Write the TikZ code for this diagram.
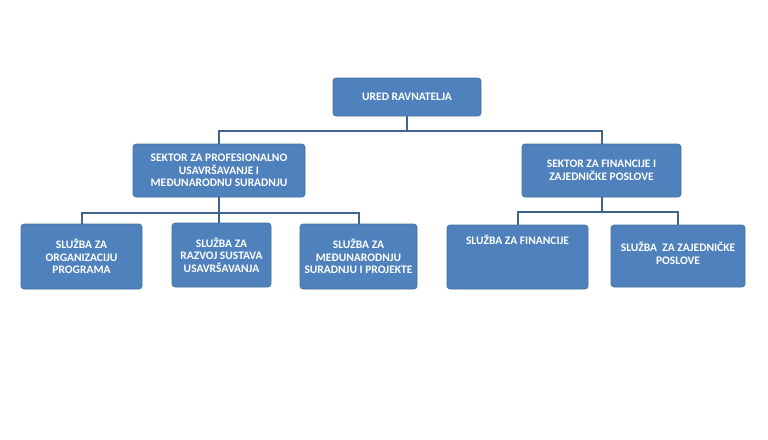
\documentclass[tikz,border=0pt]{standalone}
\usepackage{fontspec}
\setmainfont{Carlito}
\newfontfamily\boxfont{Carlito Bold}
\newcommand\Sc{\setbox0\hbox{S}\hbox to\wd0{Š\hss}}
\definecolor{boxblue}{HTML}{4F81BD}
\definecolor{boxedge}{HTML}{41719C}
\definecolor{linkblue}{HTML}{3E6590}
\tikzset{
  unit/.style={draw=boxedge, fill=boxblue, rounded corners=3pt, line width=0.6pt,
    text=white, font=\boxfont\fontsize{11.5}{12.5}\selectfont, align=center, inner sep=2pt},
  link/.style={draw=linkblue, line width=2pt}
}
\begin{document}
\begin{tikzpicture}[x=1pt,y=-1pt]
  \useasboundingbox (0,0) rectangle (768,439);
  \node[unit, minimum width=148pt, minimum height=38pt] (ured) at (407,97) {URED RAVNATELJA};
  \node[unit, minimum width=172pt, minimum height=53pt] (sekA) at (219,170.5)
    {SEKTOR ZA PROFESIONALNO\\USAVR\Sc AVANJE I\\MEĐUNARODNU SURADNJU};
  \node[unit, minimum width=159pt, minimum height=53pt] (sekB) at (601.5,170.5)
    {SEKTOR ZA FINANCIJE I\\ZAJEDNIČKE POSLOVE};
  \node[unit, minimum width=121pt, minimum height=65pt] (org) at (81.5,256.5)
    {SLUŽBA ZA\\ORGANIZACIJU\\PROGRAMA};
  \node[unit, minimum width=99pt, minimum height=64pt] (razvoj) at (221.5,255)
    {SLUŽBA ZA\\RAZVOJ SUSTAVA\\USAVR\Sc AVANJA};
  \node[unit, minimum width=117pt, minimum height=65pt] (medj) at (358.5,256.5)
    {SLUŽBA ZA\\MEĐUNARODNJU\\SURADNJU I PROJEKTE};
  \node[unit, minimum width=141pt, minimum height=64pt, text depth=34pt] (fin) at (517.5,257)
    {SLUŽBA ZA FINANCIJE};
  \node[unit, minimum width=134pt, minimum height=62pt, text depth=5pt] (posl) at (678,256)
    {SLUŽBA \ ZA ZAJEDNIČKE\\POSLOVE};
  % sabirnice
  \coordinate (busU) at (407,131);
  \coordinate (busA) at (219,213);
  \coordinate (busB) at (601.5,212);
  \begin{scope}[link]
    \draw (ured.south) -- (busU);
    \draw (busU) -| (sekA.north);
    \draw (busU) -| (sekB.north);
    \draw (sekA.south) -- (busA);
    \draw (busA) -| (org.north);
    \draw (busA) -- (razvoj.north -| busA);
    \draw (busA) -| (medj.north);
    \draw (sekB.south) -- (busB);
    \draw (busB) -| ([xshift=0.5pt]fin.north);
    \draw (busB) -| (posl.north);
  \end{scope}
\end{tikzpicture}
\end{document}
